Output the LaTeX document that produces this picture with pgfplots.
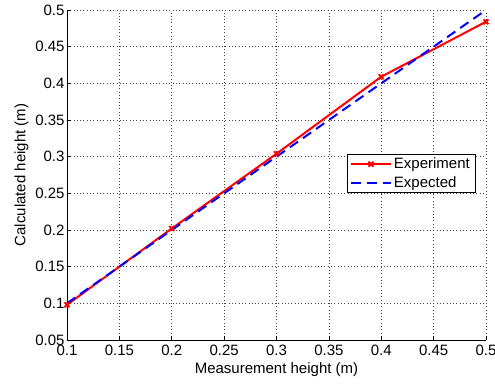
\documentclass[border=0pt]{standalone}
\usepackage{fontspec}
\setmainfont{Liberation Sans}
\usepackage{pgfplots}
\pgfplotsset{compat=1.18}
\begin{document}
\begin{tikzpicture}
\begin{axis}[
  scale only axis,
  width=419pt, height=330pt,
  xmin=0.1, xmax=0.5, ymin=0.05, ymax=0.5,
  xtick={0.1,0.15,...,0.5}, ytick={0.05,0.1,...,0.5},
  xticklabels={0.1,0.15,0.2,0.25,0.3,0.35,0.4,0.45,0.5},
  yticklabels={0.05,0.1,0.15,0.2,0.25,0.3,0.35,0.4,0.45,0.5},
  axis x line*=bottom, axis y line*=left,
  axis line style={black, line width=0.6pt,-},
  tick align=inside, tick style={black, line width=0.6pt}, major tick length=4pt,
  grid=major, grid style={black!75, line width=0.5pt, dash pattern=on 0.7pt off 2.6pt},
  every tick label/.append style={font=\fontsize{15}{17}\selectfont},
  xticklabel style={yshift=-1pt},
  yticklabel style={xshift=1pt},
  /pgf/number format/assume math mode=true,
  xlabel={Measurement height (m)}, ylabel={Calculated height (m)},
  label style={font=\fontsize{15}{17}\selectfont},
  xlabel style={yshift=-1pt}, ylabel style={yshift=0pt},
  legend style={at={(axis cs:0.367,0.304)}, anchor=north west, draw=black, line width=0.6pt,
    font=\fontsize{15}{17}\selectfont, inner xsep=3pt, inner ysep=2pt, row sep=2pt},
  legend cell align=left,
  legend image code/.code={\draw[mark repeat=2,mark phase=2,#1] plot coordinates {(0pt,0pt) (20pt,0pt) (40pt,0pt)};},
  clip=false,
]
\addplot[red, line width=2pt, mark=x, mark size=3.5pt, mark options={solid}] coordinates {
  (0.1,0.098) (0.2,0.202) (0.3,0.304) (0.4,0.409) (0.5,0.484)};
\addlegendentry{Experiment}
\addplot[blue, line width=2pt, dash pattern=on 10pt off 6pt] coordinates {
  (0.1,0.1) (0.2,0.2) (0.3,0.3) (0.4,0.4) (0.5,0.5)};
\addlegendentry{Expected}
\end{axis}
\pgfresetboundingbox
\path (-67pt,-45pt) rectangle (428pt,340pt);
\end{tikzpicture}
\end{document}
